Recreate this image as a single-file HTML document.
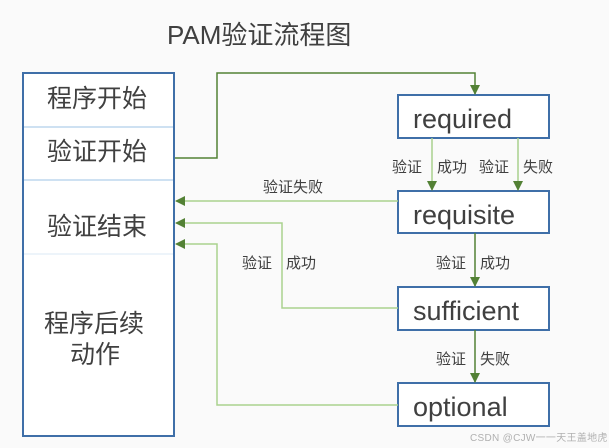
<!DOCTYPE html>
<html><head><meta charset="utf-8"><style>
body{margin:0;background:#fafafa;width:609px;height:448px;overflow:hidden}
svg{display:block}
text{font-family:"Liberation Sans","Noto Sans CJK SC",sans-serif;fill:#404040}
</style></head><body>
<svg width="609" height="448" viewBox="0 0 609 448">
<defs><marker id="a" markerWidth="10" markerHeight="10" refX="9" refY="5" orient="auto" markerUnits="userSpaceOnUse"><path d="M0,0 L10,5 L0,10 z" fill="#538135"/></marker></defs>
<rect width="609" height="448" fill="#fafafa"/>
<text x="167" y="44" font-size="26">PAM验证流程图</text>
<rect x="23" y="73" width="151" height="363" fill="#fff" stroke="#3f6fa8" stroke-width="2"/>
<line x1="24" y1="127" x2="173" y2="127" stroke="#9dc3e6" stroke-width="1"/>
<line x1="24" y1="180" x2="173" y2="180" stroke="#9dc3e6" stroke-width="1"/>
<line x1="24" y1="254" x2="173" y2="254" stroke="#dbe9f6" stroke-width="1"/>
<g font-size="25">
<text x="47" y="107">程序开始</text>
<text x="47" y="160">验证开始</text>
<text x="47" y="235">验证结束</text>
<text x="44" y="332">程序后续</text>
<text x="70" y="363">动作</text>
</g>
<g fill="#fff" stroke="#3f6fa8" stroke-width="2">
<rect x="398" y="95" width="151" height="43"/>
<rect x="398" y="191" width="151" height="42"/>
<rect x="398" y="287" width="151" height="43"/>
<rect x="398" y="383" width="151" height="43"/>
</g>
<g font-size="27">
<text x="413" y="128">required</text>
<text x="413" y="224">requisite</text>
<text x="413" y="320">sufficient</text>
<text x="413" y="416">optional</text>
</g>
<g fill="none" stroke-width="1.5">
<polyline points="175,158 217,158 217,73 475,73 475,94" stroke="#538135" marker-end="url(#a)"/>
<line x1="432" y1="138" x2="432" y2="190" stroke="#a9d18e" marker-end="url(#a)"/>
<line x1="518" y1="138" x2="518" y2="190" stroke="#a9d18e" marker-end="url(#a)"/>
<line x1="475" y1="233" x2="475" y2="286" stroke="#538135" marker-end="url(#a)"/>
<line x1="475" y1="330" x2="475" y2="382" stroke="#538135" marker-end="url(#a)"/>
<polyline points="398,201 176,201" stroke="#a9d18e" marker-end="url(#a)"/>
<polyline points="398,308 282,308 282,223 176,223" stroke="#a9d18e" marker-end="url(#a)"/>
<polyline points="398,405 217,405 217,244 176,244" stroke="#a9d18e" marker-end="url(#a)"/>
</g>
<g font-size="15">
<text x="392" y="172">验证</text><text x="437" y="172">成功</text>
<text x="479" y="172">验证</text><text x="523" y="172">失败</text>
<text x="263" y="192">验证失败</text>
<text x="242" y="268">验证</text><text x="286" y="268">成功</text>
<text x="436" y="268">验证</text><text x="480" y="268">成功</text>
<text x="436" y="364">验证</text><text x="480" y="364">失败</text>
</g>
<text x="470" y="441" font-size="10" letter-spacing="0.3" style="fill:#b0b0b0">CSDN @CJW一一天王盖地虎</text>
</svg>
</body></html>
